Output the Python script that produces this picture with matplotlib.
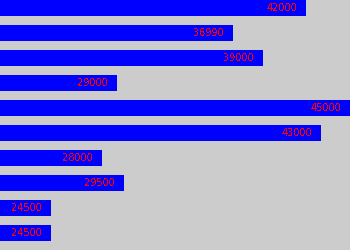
import matplotlib
matplotlib.use("Agg")
import matplotlib.pyplot as plt

values = [42000, 36990, 39000, 29000, 45000, 43000, 28000, 29500, 24500, 24500]
labels = [str(v) for v in values]

fig = plt.figure(figsize=(3.5, 2.5), dpi=100, facecolor="#cccccc")
ax = fig.add_axes([0, 0, 1, 1])
ax.set_facecolor("#cccccc")
pos = list(range(len(values)))
ax.barh(pos, values, height=0.64, color="#0000ff", left=0)
ax.set_xlim(21000, 45000)
ax.set_ylim(9.68, -0.32)
for p, v, lab in zip(pos, values, labels):
    ax.annotate(lab, xy=(v, p), xytext=(-9, 0), textcoords="offset pixels",
                ha="right", va="center", color="#ff0000", fontsize=7,
                antialiased=False)
ax.axis("off")
fig.savefig("out.png", dpi=100, facecolor="#cccccc")
